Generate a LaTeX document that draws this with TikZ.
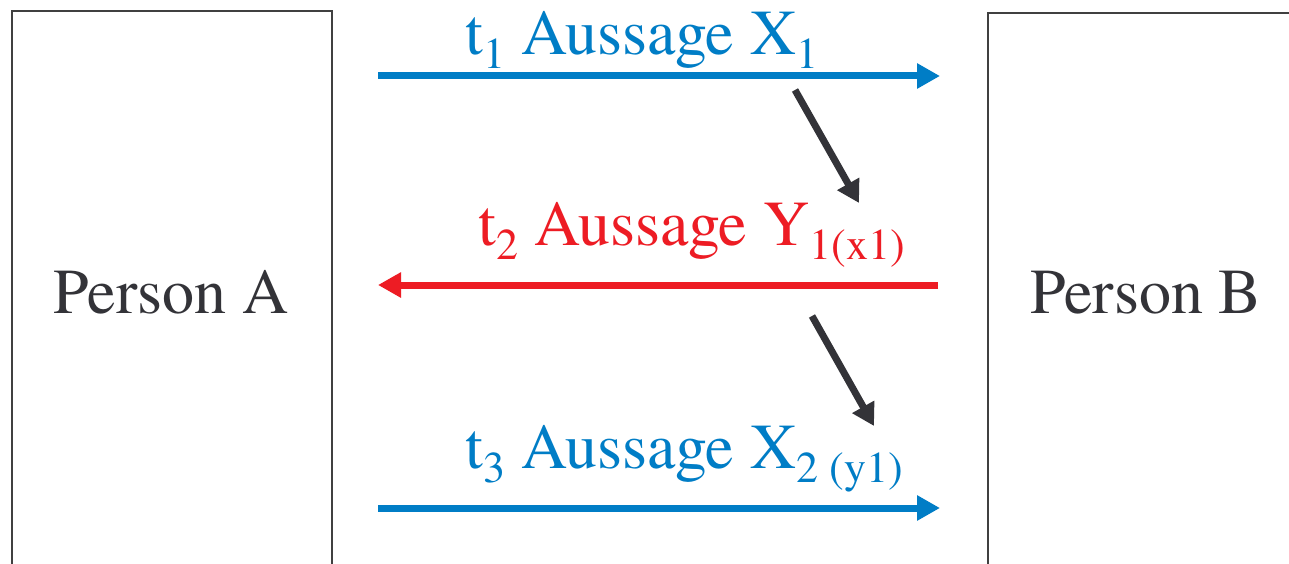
\documentclass[tikz,border=0pt]{standalone}
\usepackage{fontspec}
\IfFontExistsTF{texgyretermes-regular.otf}{\setmainfont{texgyretermes-regular.otf}}{\setmainfont{Liberation Serif}}
\usetikzlibrary{arrows.meta}
\definecolor{cblue}{RGB}{0,125,198}
\definecolor{cred}{RGB}{237,28,36}
\definecolor{cdark}{RGB}{51,51,56}
\definecolor{cbox}{RGB}{64,64,64}
\newcommand\sbs[1]{\raisebox{-14pt}{\fontsize{44}{44}\selectfont #1}}
\tikzset{
  personbox/.style={draw=cbox, line width=2pt, rectangle},
  lbl/.style={anchor=base west, inner sep=0pt, font=\fontsize{64}{64}\selectfont},
  msg/.style={line width=7pt, -{Triangle[length=23pt,width=24pt]}},
  infl/.style={line width=7pt, draw=cdark, -{Triangle[length=22pt,width=24pt]}},
}
\begin{document}
\begin{tikzpicture}[x=1pt,y=-1pt]
\useasboundingbox (0,0) rectangle (1289,564);
\clip (0,0) rectangle (1289,564);
\fill[white] (0,0) rectangle (1289,564);
% boxes
\node[personbox, minimum width=320.5pt, minimum height=600pt, anchor=north west] (boxA) at (10.5,10.5) {};
\node[personbox, minimum width=400pt, minimum height=600pt, anchor=north west] (boxB) at (987,12.5) {};
\node[lbl, text=cdark, anchor=base] (pa) at (171,313) {Person A};
\node[lbl, text=cdark, anchor=base] (pb) at (1146,313) {Person B};
% labels
\node[lbl, text=cblue] (l1) at (465,55) {t\sbs{1} Aussage X\sbs{1}};
\node[lbl, text=cred] (l2) at (478,245) {t\sbs{2} Aussage Y\sbs{1(x1)}};
\node[lbl, text=cblue] (l3) at (465,468) {t\sbs{3} Aussage X\sbs{2 (y1)}};
% arrow endpoints
\coordinate (a1s) at (378,76);
\coordinate (a1e) at (940,76);
\coordinate (a2s) at (938,285);
\coordinate (a2e) at (378,285);
\coordinate (a3s) at (378,508);
\coordinate (a3e) at (940,508);
\coordinate (d1s) at (795,90);
\coordinate (d1e) at (859,203);
\coordinate (d2s) at (812,316);
\coordinate (d2e) at (874,426);
\draw[msg, draw=cblue, fill=cblue] (a1s) -- (a1e);
\draw[msg, draw=cred, fill=cred] (a2s) -- (a2e);
\draw[msg, draw=cblue, fill=cblue] (a3s) -- (a3e);
\draw[infl] (d1s) -- (d1e);
\draw[infl] (d2s) -- (d2e);
\end{tikzpicture}
\end{document}
